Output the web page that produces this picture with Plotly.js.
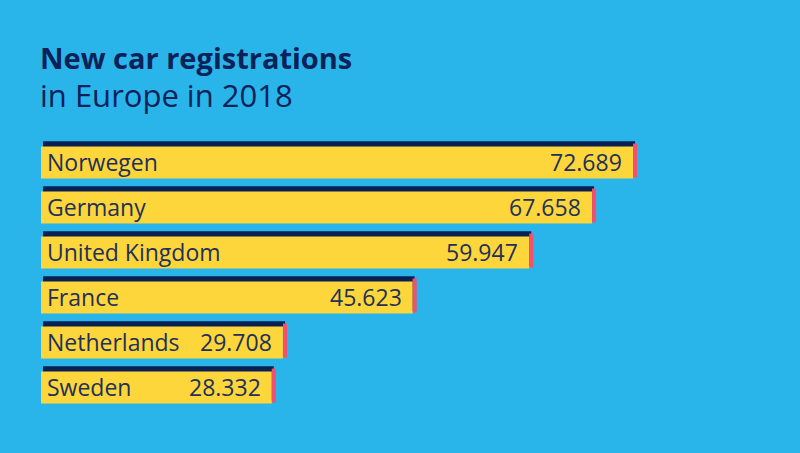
<!DOCTYPE html>
<html>
<head>
<meta charset="utf-8">
<script src="https://cdn.plot.ly/plotly-3.0.1.min.js"></script>
<style>html,body{margin:0;padding:0;background:#29B5EA;}#chart{width:800px;height:453px;}</style>
</head>
<body>
<div id="chart"></div>
<script>
const categories = ['Norwegen', 'Germany', 'United Kingdom', 'France', 'Netherlands', 'Sweden'];
const values = [72.689, 67.658, 59.947, 45.623, 29.708, 28.332];
const valueLabels = ['72.689', '67.658', '59.947', '45.623', '29.708', '28.332'];

const BG = '#29B5EA', YELLOW = '#FDD63C', NAVY = '#0A1F52', PINK = '#F2506E', TEXT = '#22305A';
const depth = 0.5;   // extrusion depth in x data units
const n = categories.length;

const navy = {
  type: 'bar', orientation: 'h', y: categories, x: values,
  base: categories.map(() => 0.25), width: 0.77, offset: -0.47,
  marker: {color: NAVY, line: {width: 0}}, hoverinfo: 'skip'
};
const pink = {
  type: 'bar', orientation: 'h', y: categories, x: categories.map(() => depth),
  base: values, width: 0.754, offset: -0.421,
  marker: {color: PINK, line: {width: 0}}, hoverinfo: 'skip'
};
const yellow = {
  type: 'bar', orientation: 'h', y: categories, x: values,
  width: 0.71, offset: -0.355,
  marker: {color: YELLOW, line: {width: 0}}, hoverinfo: 'skip'
};

const font = {family: 'Open Sans', size: 23, color: TEXT};
const annotations = [];
categories.forEach((c, i) => {
  annotations.push({x: 0, y: c, xref: 'x', yref: 'y', text: c, xanchor: 'left', yanchor: 'middle',
    xshift: 4, yshift: 1, showarrow: false, font: font});
  annotations.push({x: values[i], y: c, xref: 'x', yref: 'y', text: valueLabels[i], xanchor: 'right', yanchor: 'middle',
    xshift: -9, yshift: 1, showarrow: false, font: font});
});

const layout = {
  width: 800, height: 453,
  paper_bgcolor: BG, plot_bgcolor: BG,
  margin: {l: 41, r: 26, t: 139.5, b: 43},
  barmode: 'overlay', showlegend: false,
  title: {
    text: '<b>New car registrations</b><br><span style="font-size:31px">in Europe in 2018</span>',
    font: {family: 'Open Sans', size: 29, color: '#0B2258'},
    x: 40 / 800, xanchor: 'left', xref: 'container',
    y: 1 - 69 / 453, yanchor: 'top', yref: 'container'
  },
  xaxis: {range: [0, 90], visible: false, fixedrange: true},
  yaxis: {type: 'category', range: [n - 0.5, -0.5], visible: false, fixedrange: true},
  annotations: annotations
};

Plotly.newPlot('chart', [navy, pink, yellow], layout, {displayModeBar: false, staticPlot: true});
</script>
</body>
</html>
